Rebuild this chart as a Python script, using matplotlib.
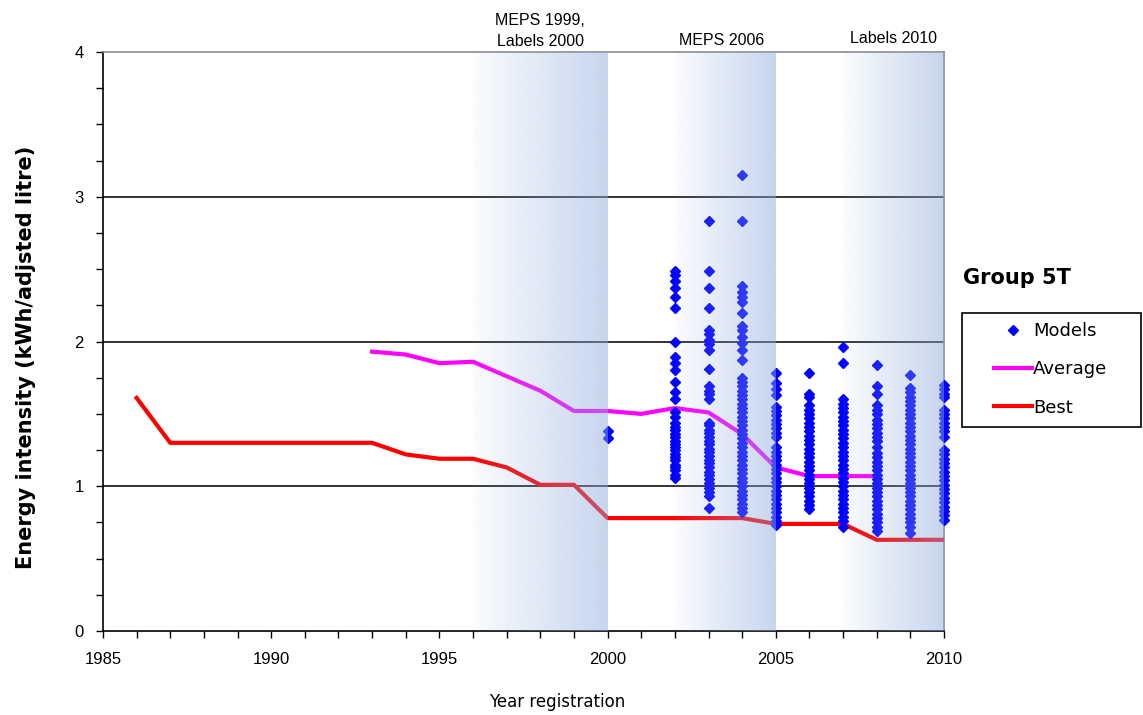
import numpy as np
import matplotlib
matplotlib.use('Agg')
import matplotlib.pyplot as plt
from matplotlib.lines import Line2D
from matplotlib.patches import Rectangle

plt.rcParams['font.family'] = ['Liberation Sans', 'DejaVu Sans']

# best and average model per year
best_years = [1986, 1987, 1988, 1989, 1990, 1991, 1992, 1993, 1994, 1995, 1996,
              1997, 1998, 1999, 2000, 2001, 2002, 2003, 2004, 2005, 2006, 2007,
              2008, 2009, 2010]
best_vals = [1.61, 1.30, 1.30, 1.30, 1.30, 1.30, 1.30, 1.30, 1.22, 1.19, 1.19,
             1.13, 1.01, 1.01, 0.78, 0.78, 0.78, 0.78, 0.78, 0.74, 0.74, 0.74,
             0.63, 0.63, 0.63]

avg_years = [1993, 1994, 1995, 1996, 1997, 1998, 1999, 2000, 2001, 2002, 2003,
             2004, 2005, 2006, 2007, 2008]
avg_vals = [1.93, 1.91, 1.85, 1.86, 1.76, 1.66, 1.52, 1.52, 1.50, 1.54, 1.51,
            1.36, 1.13, 1.07, 1.07, 1.07]

# individual registered models
models = {
    2000: [1.38, 1.33],
    2002: [2.49, 2.46, 2.42, 2.37, 2.31, 2.23, 2.00, 1.89, 1.85, 1.80, 1.72,
           1.65, 1.60, 1.51, 1.48, 1.44, 1.41, 1.39, 1.36, 1.34, 1.31, 1.29,
           1.27, 1.25, 1.22, 1.20, 1.18, 1.15, 1.13, 1.11, 1.08, 1.06],
    2003: [2.83, 2.49, 2.37, 2.23, 2.08, 2.05, 2.01, 1.98, 1.94, 1.81, 1.69,
           1.66, 1.64, 1.60, 1.44, 1.42, 1.39, 1.37, 1.34, 1.31, 1.29, 1.26,
           1.24, 1.21, 1.18, 1.16, 1.13, 1.10, 1.08, 1.05, 1.02, 0.99, 0.96,
           0.93, 0.85],
    2004: [3.15, 2.83, 2.38, 2.34, 2.31, 2.27, 2.20, 2.11, 2.08, 2.03, 1.99,
           1.94, 1.87, 1.75, 1.72, 1.69, 1.66, 1.63, 1.60, 1.57, 1.54, 1.51,
           1.48, 1.45, 1.42, 1.39, 1.36, 1.33, 1.30, 1.27, 1.24, 1.21, 1.18,
           1.15, 1.12, 1.09, 1.06, 1.03, 1.00, 0.97, 0.94, 0.91, 0.88, 0.85,
           0.82],
    2005: [1.78, 1.71, 1.67, 1.63, 1.55, 1.52, 1.49, 1.46, 1.43, 1.40, 1.37,
           1.34, 1.27, 1.24, 1.21, 1.18, 1.15, 1.12, 1.09, 1.06, 1.03, 1.00,
           0.97, 0.94, 0.91, 0.88, 0.85, 0.82, 0.79, 0.76, 0.73],
    2006: [1.78, 1.64, 1.62, 1.56, 1.53, 1.50, 1.47, 1.44, 1.41, 1.38, 1.35,
           1.32, 1.29, 1.26, 1.23, 1.20, 1.17, 1.14, 1.11, 1.08, 1.05, 1.02,
           0.99, 0.96, 0.93, 0.90, 0.87, 0.84],
    2007: [1.96, 1.85, 1.60, 1.57, 1.54, 1.51, 1.48, 1.45, 1.42, 1.39, 1.36,
           1.33, 1.30, 1.27, 1.24, 1.21, 1.18, 1.15, 1.12, 1.09, 1.06, 1.03,
           1.00, 0.97, 0.94, 0.91, 0.88, 0.85, 0.82, 0.79, 0.76, 0.72],
    2008: [1.84, 1.69, 1.64, 1.56, 1.53, 1.50, 1.46, 1.43, 1.40, 1.37, 1.34,
           1.31, 1.27, 1.23, 1.20, 1.17, 1.14, 1.11, 1.08, 1.05, 1.02, 0.99,
           0.96, 0.93, 0.90, 0.87, 0.84, 0.81, 0.78, 0.75, 0.72, 0.69],
    2009: [1.77, 1.68, 1.65, 1.62, 1.59, 1.56, 1.53, 1.50, 1.47, 1.44, 1.41,
           1.38, 1.35, 1.32, 1.29, 1.26, 1.23, 1.20, 1.17, 1.14, 1.11, 1.08,
           1.05, 1.02, 0.99, 0.96, 0.93, 0.90, 0.87, 0.84, 0.81, 0.78, 0.75,
           0.72, 0.68],
    2010: [1.70, 1.67, 1.64, 1.62, 1.53, 1.50, 1.47, 1.44, 1.41, 1.38, 1.34,
           1.25, 1.22, 1.19, 1.16, 1.13, 1.10, 1.07, 1.04, 1.01, 0.98, 0.95,
           0.92, 0.89, 0.86, 0.83, 0.80, 0.77],
}

# policy periods shaded on the chart
bands = [(1996, 2000), (2002, 2005), (2007, 2010)]
band_labels = ["MEPS 1999,\nLabels 2000", "MEPS 2006", "Labels 2010"]
band_label_x = [1998.0, 2003.4, 2008.5]
band_label_y = [4.02, 4.025, 4.04]

fig = plt.figure(figsize=(11.43, 7.15), dpi=100)
ax = fig.add_axes([103 / 1143, 1 - 631 / 715, 841 / 1143, 579 / 715])

for y in [1, 2, 3]:
    ax.axhline(y, color='#222222', lw=1.3, zorder=1)

ax.plot(best_years, best_vals, color='#ff0000', lw=3, solid_joinstyle='round', zorder=3)
ax.plot(avg_years, avg_vals, color='#ff00ff', lw=3, solid_joinstyle='round', zorder=3)

for yr, vals in models.items():
    ax.plot([yr] * len(vals), vals, 'D', color='#0000ff', ms=5.5, mec='#0000ff',
            zorder=4, clip_on=False)

# gradient overlay: almost clear on the left, pale blue on the right
grad = np.zeros((1, 256, 4))
grad[..., 0] = 140 / 255
grad[..., 1] = 170 / 255
grad[..., 2] = 220 / 255
grad[..., 3] = 0.04 + np.linspace(0, 1, 256) * 0.45
for (x0, x1) in bands:
    ax.imshow(grad, extent=(x0, x1, 0, 4), aspect='auto', zorder=5,
              interpolation='bilinear')
for lab, lx, ly in zip(band_labels, band_label_x, band_label_y):
    ax.text(lx, ly, lab, ha='center', va='bottom', fontsize=11.5,
            linespacing=1.55, clip_on=False)

ax.set_xlim(1985, 2010)
ax.set_ylim(0, 4)
ax.set_xticks([1985, 1990, 1995, 2000, 2005, 2010])
ax.set_xticks(range(1985, 2011), minor=True)
ax.set_yticks([0, 1, 2, 3, 4])
ax.set_yticks(np.arange(0, 4.01, 0.25), minor=True)
ax.tick_params(which='both', direction='out', length=5, width=1, labelsize=12)
ax.tick_params(axis='x', pad=10)
ax.tick_params(axis='y', pad=9)

for s in ['left', 'bottom']:
    ax.spines[s].set_color('black')
    ax.spines[s].set_linewidth(1.2)
for s in ['top', 'right']:
    ax.spines[s].set_color('#8c8c8c')
    ax.spines[s].set_linewidth(1.2)

ax.set_xlabel("Year registration", fontsize=12, family=['DejaVu Sans'])
ax.xaxis.set_label_coords(0.54, -0.107)
ax.set_ylabel("Energy intensity (kWh/adjsted litre)", fontsize=15,
              fontweight='bold', family=['DejaVu Sans'])
ax.yaxis.set_label_coords(-0.08, 0.473)

fig.text(963 / 1143, 1 - 278 / 715, "Group 5T", fontsize=15, fontweight='bold',
         family=['DejaVu Sans'], va='center', ha='left')

# legend box drawn separately so the entries can sit inset
fig.patches.append(Rectangle((962 / 1143, 1 - 427 / 715), 179 / 1143, 114 / 715,
                             transform=fig.transFigure, fill=False,
                             edgecolor='black', lw=1.2))
handles = [
    Line2D([], [], ls='none', marker='D', color='#0000ff', ms=5.5),
    Line2D([], [], color='#ff00ff', lw=3),
    Line2D([], [], color='#ff0000', lw=3),
]
leg = fig.legend(handles, ["Models", "Average", "Best"], loc='upper left',
                 bbox_to_anchor=(994 / 1143, 1 - 322 / 715),
                 prop={'family': 'DejaVu Sans', 'size': 13},
                 frameon=False, labelspacing=1.13, handlelength=2.1,
                 handletextpad=0.05, borderpad=0, borderaxespad=0)

fig.savefig('out.png', dpi=100)
